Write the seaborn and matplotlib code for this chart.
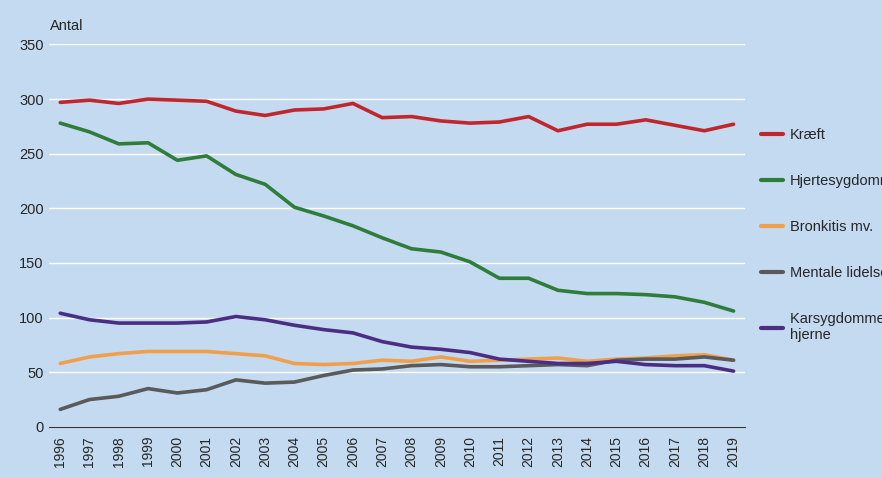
import matplotlib
matplotlib.use("Agg")
import matplotlib.pyplot as plt
import seaborn as sns
import pandas as pd

years = list(range(1996, 2020))
kraeft = [297,299,296,300,299,298,289,285,290,291,296,283,284,280,278,279,284,271,277,277,281,276,271,277]
hjerte = [278,270,259,260,244,248,231,222,201,193,184,173,163,160,151,136,136,125,122,122,121,119,114,106]
bronkitis = [58,64,67,69,69,69,67,65,58,57,58,61,60,64,60,61,62,63,60,62,63,65,66,61]
mentale = [16,25,28,35,31,34,43,40,41,47,52,53,56,57,55,55,56,57,56,61,62,62,64,61]
kars = [104,98,95,95,95,96,101,98,93,89,86,78,73,71,68,62,60,58,58,60,57,56,56,51]

names = ["Kræft", "Hjertesygdomme", "Bronkitis mv.", "Mentale lidelser", "Karsygdomme i\nhjerne"]
series = [kraeft, hjerte, bronkitis, mentale, kars]
colors = ["#c0272d", "#2e7d3a", "#f0a04b", "#5a5a5a", "#4b2e83"]

df = pd.DataFrame([(y, n, v) for n, s in zip(names, series) for y, v in zip(years, s)],
                  columns=["År", "Serie", "Antal"])

bg = "#c4daf0"
sns.set_style("white")
plt.rcParams["font.family"] = ["Liberation Sans", "DejaVu Sans"]
fig = plt.figure(figsize=(8.82, 4.78), dpi=100, facecolor=bg)
ax = fig.add_axes([0.055, 0.107, 0.79, 0.80], facecolor=bg)
sns.lineplot(data=df, x="År", y="Antal", hue="Serie", hue_order=names, palette=colors,
             linewidth=2.6, ax=ax, legend=False)
ax.set_ylim(0, 350)
ax.set_yticks(range(0, 351, 50))
ax.set_xlim(1995.6, 2019.4)
ax.set_xticks(years)
ax.set_xticklabels([str(y) for y in years], rotation=90, fontsize=10)
ax.tick_params(axis="y", labelsize=10.5, length=0)
ax.tick_params(axis="x", length=3, color="#333333")
ax.grid(axis="y", color="white", linewidth=1)
ax.set_axisbelow(True)
for s in ["top", "right", "left"]:
    ax.spines[s].set_visible(False)
ax.spines["bottom"].set_color("#333333")
ax.set_xlabel("")
ax.set_ylabel("")
fig.text(0.057, 0.945, "Antal", fontsize=10.5, ha="left", va="center")

handles = [plt.Line2D([], [], color=c, linewidth=3) for c in colors]
leg = fig.legend(handles, names, loc="upper left", bbox_to_anchor=(0.848, 0.76),
                 frameon=False, fontsize=10.5, handlelength=1.5, handletextpad=0.5,
                 labelspacing=2.2)
fig.savefig("out.png", dpi=100, facecolor=bg)
